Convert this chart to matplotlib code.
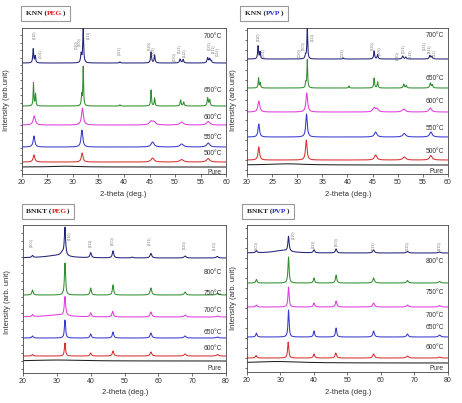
import numpy as np
import matplotlib
matplotlib.use('Agg')
import matplotlib.pyplot as plt
from matplotlib.offsetbox import TextArea, HPacker, AnchoredOffsetbox

plt.rcParams['font.family'] = ['Liberation Sans', 'DejaVu Sans']

# colours of the traces, top to bottom
colors = ['#23237a', '#2f8f2f', '#e03ce0', '#3838d0', '#d83030', '#202020']

# ---------- KNN (PEG) ----------
knn_peg_labels = ['700°C', '650°C', '600°C', '550°C', '500°C', 'Pure']
knn_peg_offsets = [111, 68, 49, 27, 12, 7]
knn_peg_label_y = [138, 84, 57, 37, 21, 2]
# (position, height, half width)
knn_peg_peaks = [
    [(22.2, 14, 0.1), (22.6, 7, 0.1), (31.6, 9, 0.12), (32.0, 35, 0.1), (39.2, 1.2, 0.1),
     (45.3, 11, 0.11), (46.0, 8, 0.11), (51.0, 4, 0.14), (51.6, 3.5, 0.12),
     (56.4, 5, 0.14), (56.8, 4, 0.14), (57.1, 2, 0.12)],
    [(22.25, 23, 0.08), (22.65, 12, 0.08), (31.7, 11, 0.09), (32.0, 39, 0.08), (39.2, 1.2, 0.1),
     (45.3, 16, 0.09), (46.0, 8, 0.09), (51.1, 6, 0.11), (51.7, 4, 0.11),
     (56.4, 8, 0.12), (56.8, 6, 0.12)],
    [(22.4, 9, 0.25), (31.85, 17, 0.22), (45.3, 3.5, 0.35), (45.9, 3, 0.35), (51.3, 3, 0.4), (56.5, 3.5, 0.35)],
    [(22.35, 11, 0.2), (31.75, 17, 0.2), (45.6, 5, 0.35), (51.3, 3, 0.4), (56.5, 4, 0.35)],
    [(22.35, 7, 0.2), (31.8, 9, 0.2), (45.6, 4, 0.35), (51.3, 2.5, 0.4), (56.5, 3.5, 0.35)],
    [(28.5, 0.8, 3.0)],
]
knn_peg_hkl = ['(110)', '(001)', '(020)', '(200)', '(111)', '(021)', '(220)', '(002)',
               '(130)', '(221)', '(112)', '(131)', '(311)', '(022)']
knn_peg_hkl_x = [22.5, 23.7, 30.8, 31.4, 33.1, 39.2, 45.1, 45.9, 50.0, 51.0, 52.0, 56.9, 57.6, 58.4]
knn_peg_hkl_y = [139, 120, 129, 132, 139, 123, 128, 123, 117, 125, 121, 128, 125, 122]

# ---------- KNN (PVP) ----------
knn_pvp_labels = ['700°C', '650°C', '600°C', '550°C', '500°C', 'Pure']
knn_pvp_offsets = [115, 86, 62, 37, 14, 9]
knn_pvp_label_y = [139, 96, 73, 46, 23, 3]
knn_pvp_peaks = [
    [(22.2, 13, 0.1), (22.6, 7, 0.1), (31.65, 4, 0.12), (32.0, 31, 0.09), (39.2, 1, 0.1),
     (45.3, 8, 0.11), (46.0, 4.5, 0.11), (51.0, 3, 0.14), (51.6, 2, 0.12),
     (56.4, 3.5, 0.14), (56.8, 2.5, 0.14)],
    [(22.3, 10, 0.09), (22.65, 5, 0.09), (31.7, 5, 0.1), (32.0, 28, 0.09), (40.3, 2, 0.09),
     (45.3, 10, 0.1), (46.0, 6, 0.1), (51.2, 4, 0.12), (51.7, 2.5, 0.12),
     (56.5, 5, 0.14), (56.9, 3, 0.12)],
    [(22.35, 11, 0.22), (31.9, 19, 0.2), (45.3, 4, 0.3), (45.9, 3, 0.3), (51.2, 3, 0.35), (56.5, 4, 0.3)],
    [(22.35, 13, 0.18), (31.85, 23, 0.18), (45.6, 5, 0.3), (51.3, 3.5, 0.35), (56.6, 5, 0.3)],
    [(22.35, 13, 0.18), (31.8, 20, 0.18), (45.6, 5, 0.3), (51.3, 3, 0.35), (56.6, 4.5, 0.3)],
    [(28.0, 1.2, 4.0)],
]
knn_pvp_hkl = knn_peg_hkl
knn_pvp_hkl_x = [22.4, 23.4, 30.5, 31.3, 33.1, 39.1, 45.1, 46.4, 50.0, 51.2, 52.6, 55.4, 56.4, 57.4]
knn_pvp_hkl_y = [137, 121, 121, 128, 137, 121, 128, 123, 118, 125, 120, 128, 125, 120]

# ---------- BNKT (PEG) ----------
bnkt_peg_labels = ['800°C', '750°C', '700°C', '650°C', '600°C', 'Pure']
bnkt_peg_offsets = [115, 78, 56, 35, 17, 12]
bnkt_peg_label_y = [101, 80, 63, 41, 25, 5]
bnkt_peg_peaks = [
    [(22.8, 2, 0.25), (30.0, 2.5, 4.0), (31.6, 3, 0.6), (32.4, 28, 0.22), (40.0, 5, 0.25),
     (46.6, 7, 0.25), (52.3, 0.8, 0.3), (57.8, 4.5, 0.3), (67.9, 2, 0.35), (77.4, 1.5, 0.35)],
    [(22.8, 5, 0.22), (32.4, 32, 0.2), (40.0, 7, 0.22), (46.6, 10, 0.22), (57.8, 7, 0.28),
     (67.9, 3, 0.3), (77.5, 2, 0.35)],
    [(22.8, 2, 0.25), (30.0, 2, 4.0), (32.4, 19, 0.24), (40.0, 4, 0.25), (46.5, 5.5, 0.25),
     (57.8, 5, 0.3), (67.9, 2, 0.35), (77.5, 1, 0.35)],
    [(22.8, 2, 0.25), (32.4, 18, 0.2), (40.0, 4, 0.25), (46.6, 6, 0.25), (57.8, 5, 0.3),
     (67.9, 2, 0.35), (77.5, 1, 0.35)],
    [(22.8, 1.5, 0.25), (32.4, 13, 0.2), (40.0, 3, 0.25), (46.6, 5, 0.25), (57.8, 4, 0.3),
     (67.9, 2, 0.35), (77.5, 1.5, 0.35)],
    [(30.0, 1.0, 8.0)],
]
bnkt_hkl = ['(100)', '(110)', '(111)', '(200)', '(211)', '(220)', '(310)']
bnkt_peg_hkl_x = [22.7, 33.9, 40.1, 46.6, 57.6, 67.9, 76.8]
bnkt_peg_hkl_y = [130, 137, 130, 132, 132, 128, 127]

# ---------- BNKT (PVP) ----------
bnkt_pvp_labels = ['800°C', '750°C', '700°C', '650°C', '600°C', 'Pure']
bnkt_pvp_offsets = [119, 89, 65, 35, 14, 9]
bnkt_pvp_label_y = [110, 80, 57, 45, 25, 4]
bnkt_pvp_peaks = [
    [(22.8, 2, 0.25), (30.5, 2.5, 3.0), (32.4, 15, 0.22), (40.0, 3, 0.25), (46.6, 4, 0.25),
     (57.8, 3, 0.3), (67.9, 1.5, 0.35), (77.4, 1, 0.35)],
    [(22.8, 3.5, 0.22), (32.4, 26, 0.2), (40.0, 5, 0.22), (46.6, 8, 0.22), (57.8, 5, 0.28),
     (67.9, 2.5, 0.3), (77.5, 1.5, 0.35)],
    [(22.8, 2, 0.25), (32.4, 20, 0.2), (40.0, 4, 0.25), (46.6, 6, 0.25), (57.8, 4, 0.3),
     (67.9, 2, 0.35), (77.5, 1.5, 0.35)],
    [(22.8, 4, 0.22), (32.4, 27, 0.19), (40.0, 6, 0.22), (46.6, 9, 0.22), (57.8, 6, 0.28),
     (67.9, 3, 0.3), (77.5, 2, 0.35)],
    [(22.7, 2.5, 0.25), (32.3, 16, 0.2), (40.0, 4, 0.25), (46.5, 5, 0.25), (57.8, 4, 0.3),
     (67.9, 2, 0.35), (77.5, 1, 0.35)],
    [(29.0, 1.5, 8.0)],
]
bnkt_pvp_hkl_x = [23.0, 34.0, 40.0, 46.9, 57.9, 68.1, 77.6]
bnkt_pvp_hkl_y = [126, 137, 128, 130, 126, 126, 126]


def trace(x, peaks):
    y = np.zeros_like(x)
    for c, h, w in peaks:
        y += h / (1 + ((x - c) / w) ** 2)
    return y


def panel(ax, xmax, xstep, ytop, ystep, peaks, offsets, labels, label_y, hkl, hkl_x, hkl_y):
    x = np.linspace(20, xmax, 6000)
    for p, off, col in zip(peaks, offsets, colors):
        ax.plot(x, trace(x, p) + off, color=col, lw=0.75)
    for lab, ly in zip(labels, label_y):
        ax.text(xmax - 0.02 * (xmax - 20), ly, lab, fontsize=4.8, color='#333333',
                ha='right', va='center')
    for lab, hx, hy in zip(hkl, hkl_x, hkl_y):
        ax.text(hx, hy, lab, fontsize=2.7, color='#777777', rotation=90,
                ha='center', va='center')
    ax.set_xlim(20, xmax)
    ax.set_ylim(0, ytop)
    ax.set_xticks(np.arange(20, xmax + 1, xstep))
    ax.set_yticks(np.arange(4, ytop, ystep))
    ax.set_yticklabels([])
    ax.tick_params(axis='both', direction='out', length=1.8, width=0.5,
                   labelsize=5, pad=1.5, colors='#333333')
    for s in ax.spines.values():
        s.set_linewidth(0.6)
        s.set_color('#444444')


def title_box(fig, x, y, name, solvent, scol):
    tp = dict(fontsize=5.3, fontweight='bold', family='Liberation Serif')
    parts = [TextArea(name + ' (', textprops=dict(color='#222222', **tp)),
             TextArea(solvent, textprops=dict(color=scol, **tp)),
             TextArea(')', textprops=dict(color='#222222', **tp))]
    box = HPacker(children=parts, align='baseline', pad=0, sep=0)
    anc = AnchoredOffsetbox(loc='center', child=box, pad=0.35, borderpad=0, frameon=True,
                            bbox_to_anchor=(x, y), bbox_transform=fig.transFigure)
    anc.patch.set_edgecolor('#999999')
    anc.patch.set_linewidth(0.8)
    fig.add_artist(anc)


fig = plt.figure(figsize=(4.62, 4.03), dpi=100)

ax1 = fig.add_axes([0.0476, 0.5682, 0.4416, 0.3623])
ax2 = fig.add_axes([0.5346, 0.5682, 0.4350, 0.3623])
ax3 = fig.add_axes([0.0498, 0.0744, 0.4394, 0.3673])
ax4 = fig.add_axes([0.5346, 0.0769, 0.4350, 0.3648])

panel(ax1, 60, 5, 146, 7.5, knn_peg_peaks, knn_peg_offsets, knn_peg_labels, knn_peg_label_y,
      knn_peg_hkl, knn_peg_hkl_x, knn_peg_hkl_y)
panel(ax2, 60, 5, 146, 10, knn_pvp_peaks, knn_pvp_offsets, knn_pvp_labels, knn_pvp_label_y,
      knn_pvp_hkl, knn_pvp_hkl_x, knn_pvp_hkl_y)
panel(ax3, 80, 10, 148, 8, bnkt_peg_peaks, bnkt_peg_offsets, bnkt_peg_labels, bnkt_peg_label_y,
      bnkt_hkl, bnkt_peg_hkl_x, bnkt_peg_hkl_y)
panel(ax4, 80, 10, 147, 10, bnkt_pvp_peaks, bnkt_pvp_offsets, bnkt_pvp_labels, bnkt_pvp_label_y,
      bnkt_hkl, bnkt_pvp_hkl_x, bnkt_pvp_hkl_y)

# axis titles
lab = dict(fontsize=5.5, color='#333333', ha='center', va='center')
fig.text(123 / 462, 1 - 194 / 403, '2-theta (deg.)', **lab)
fig.text(348 / 462, 1 - 195 / 403, '2-theta (deg.)', **lab)
fig.text(125 / 462, 1 - 393 / 403, '2-theta (deg.)', **lab)
fig.text(348 / 462, 1 - 393 / 403, '2-theta (deg.)', **lab)
fig.text(7 / 462, 1 - 100 / 403, 'Intensity (arb.unit)', rotation=90, **lab)
fig.text(234 / 462, 1 - 100 / 403, 'Intensity (arb.unit)', rotation=90, **lab)
fig.text(8 / 462, 1 - 302 / 403, 'Intensity (arb. unit)', rotation=90, **lab)
fig.text(234 / 462, 1 - 298 / 403, 'Intensity (arb. unit)', rotation=90, **lab)

title_box(fig, 45.5 / 462, 1 - 13.5 / 403, 'KNN', 'PEG', '#e02020')
title_box(fig, 264 / 462, 1 - 13.5 / 403, 'KNN', 'PVP', '#2a2ad0')
title_box(fig, 48 / 462, 1 - 211.5 / 403, 'BNKT', 'PEG', '#e02020')
title_box(fig, 268 / 462, 1 - 211.5 / 403, 'BNKT', 'PVP', '#2a2ad0')

fig.savefig('out.png', dpi=100)
